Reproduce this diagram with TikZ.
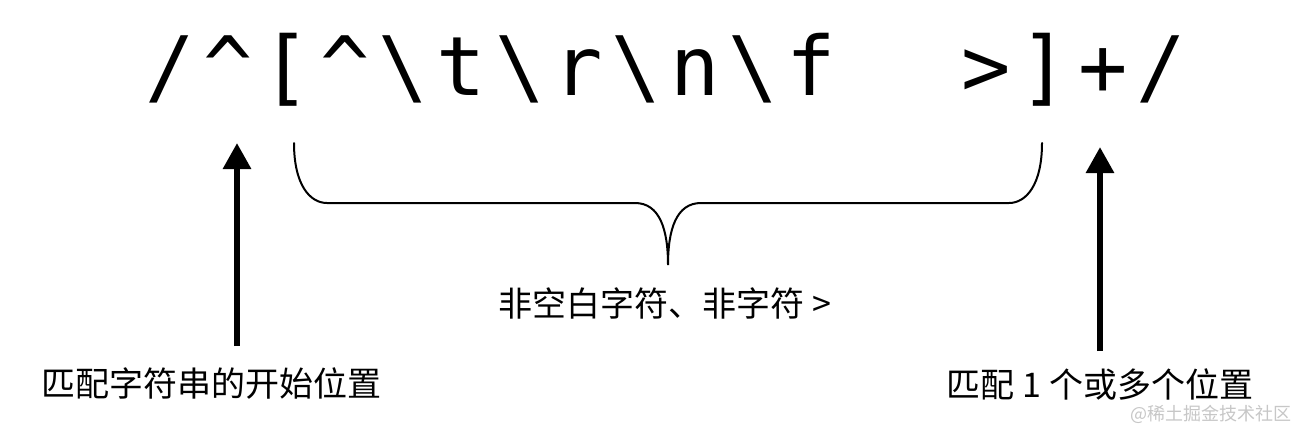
\documentclass[tikz,border=0pt]{standalone}
\usepackage{fontspec}
\setmainfont{DejaVu Sans}
\newfontfamily\cjk{Noto Sans CJK SC}
\newfontfamily\monofnt{DejaVu Sans Mono}
\usetikzlibrary{arrows.meta}
\begin{document}
\begin{tikzpicture}[x=1pt,y=-1pt,
  rx/.style={inner sep=0pt, anchor=base, font=\monofnt\fontsize{82}{82}\selectfont},
  lbl/.style={inner sep=0pt, font=\cjk\fontsize{34}{40}\selectfont},
  arr/.style={line width=6pt, -{Triangle[width=27pt,length=26pt]}},
  brace/.style={line width=2pt, line cap=round}]
\useasboundingbox[fill=white] (0,0) rectangle (1298,432);
% regex characters
\node[rx] (r0)  at (170.0,95) {/};
\node[rx] (r1)  at (228.3,95) {\textasciicircum};
\node[rx] (r2)  at (286.6,95) {[};
\node[rx] (r3)  at (344.9,95) {\textasciicircum};
\node[rx] (r4)  at (403.2,95) {\textbackslash};
\node[rx] (r5)  at (461.5,95) {t};
\node[rx] (r6)  at (519.8,95) {\textbackslash};
\node[rx] (r7)  at (578.1,95) {r};
\node[rx] (r8)  at (636.4,95) {\textbackslash};
\node[rx] (r9)  at (694.7,95) {n};
\node[rx] (r10) at (753.0,95) {\textbackslash};
\node[rx] (r11) at (811.3,95) {f};
\node[rx] (r14) at (986.2,95) {>};
\node[rx] (r15) at (1044.5,95) {]};
\node[rx] (r16) at (1102.8,95) {+};
\node[rx] (r17) at (1161.1,95) {/};
% brace
\coordinate (bl) at (294,143);
\coordinate (br) at (1042,143);
\coordinate (bt) at (668,265);
\draw[brace] (bl) .. controls (294,185) and (310,203) .. (327,203)
  -- (635,203) .. controls (660,203) and (668,230) .. (bt)
  .. controls (668,230) and (676,203) .. (701,203)
  -- (1009,203) .. controls (1026,203) and (1042,185) .. (br);
% labels
\node[lbl] (mid) at (665,303) {非空白字符、非字符 >};
\node[lbl] (left) at (211,384) {匹配字符串的开始位置};
\node[lbl] (right) at (1100,384) {匹配 1 个或多个位置};
\node[inner sep=0pt, text=black!22, font=\cjk\fontsize{18}{20}\selectfont] (wm) at (1211,414) {@稀土掘金技术社区};
% arrows
\coordinate (a1b) at (237,346);
\coordinate (a1t) at (237,143);
\coordinate (a2b) at (1100,351);
\coordinate (a2t) at (1100,147);
\draw[arr] (a1b) -- (a1t);
\draw[arr] (a2b) -- (a2t);
\end{tikzpicture}
\end{document}
